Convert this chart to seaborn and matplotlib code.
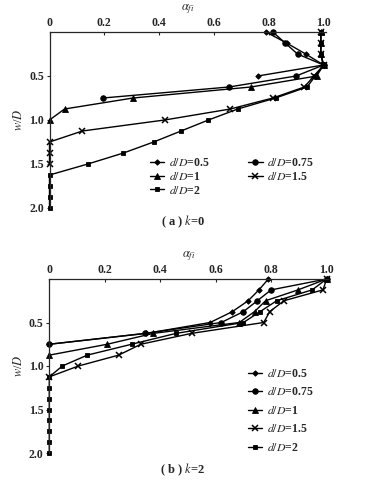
import seaborn as sns
import matplotlib.pyplot as plt
import pandas as pd

# depth steps (w/D) and alpha_fi values
# (a) k=0
w_a05 = [0, 0.125, 0.25, 0.375, 0.5]
a_a05 = [0.79, 0.865, 0.935, 1.0, 0.76]
w_a075 = [0, 0.125, 0.25, 0.375, 0.5, 0.625, 0.75]
a_a075 = [0.815, 0.86, 0.905, 1.0, 0.90, 0.655, 0.195]
w_a1 = [0, 0.125, 0.25, 0.375, 0.5, 0.625, 0.75, 0.875, 1.0]
a_a1 = [0.99, 0.99, 0.99, 1.0, 0.975, 0.735, 0.305, 0.055, 0.0]
w_a15 = [0, 0.125, 0.25, 0.375, 0.5, 0.625, 0.75, 0.875, 1.0, 1.125, 1.25, 1.375, 1.5]
a_a15 = [0.99, 0.99, 0.99, 1.0, 0.965, 0.93, 0.815, 0.66, 0.42, 0.12, 0.0, 0.0, 0.0]
w_a2 = [0, 0.125, 0.25, 0.375, 0.5, 0.625, 0.75, 0.875, 1.0, 1.125, 1.25,
        1.375, 1.5, 1.625, 1.75, 1.875, 2.0]
a_a2 = [0.99, 0.99, 0.99, 1.0, 0.97, 0.94, 0.825, 0.687, 0.58, 0.48, 0.38,
        0.27, 0.14, 0.0, 0.0, 0.0, 0.0]

# (b) k=2
w_b05 = [0, 0.125, 0.25, 0.375, 0.5, 0.625, 0.75]
a_b05 = [0.79, 0.756, 0.717, 0.66, 0.58, 0.35, 0.0]
w_b075 = [0, 0.125, 0.25, 0.375, 0.5, 0.625, 0.75]
a_b075 = [1.0, 0.80, 0.75, 0.70, 0.62, 0.345, 0.0]
w_b1 = [0, 0.125, 0.25, 0.375, 0.5, 0.625, 0.75, 0.875]
a_b1 = [1.0, 0.897, 0.78, 0.74, 0.685, 0.375, 0.209, 0.0]
w_b15 = [0, 0.125, 0.25, 0.375, 0.5, 0.625, 0.75, 0.875, 1.0, 1.125]
a_b15 = [1.0, 0.987, 0.846, 0.795, 0.773, 0.513, 0.33, 0.25, 0.105, 0.0]
w_b2 = [0, 0.125, 0.25, 0.375, 0.5, 0.625, 0.75, 0.875, 1.0, 1.125, 1.25,
        1.375, 1.5, 1.625, 1.75, 1.875, 2.0]
a_b2 = [1.0, 0.948, 0.82, 0.76, 0.70, 0.457, 0.297, 0.137, 0.047, 0.0, 0.0,
        0.0, 0.0, 0.0, 0.0, 0.0, 0.0]

labels = [r'$d$/$D$=0.5', r'$d$/$D$=0.75', r'$d$/$D$=1', r'$d$/$D$=1.5', r'$d$/$D$=2']
markers = ['D', 'o', '^', 'x', 's']
msizes = [2.8, 4.0, 4.0, 3.8, 3.5]

panel_a = [(a_a05, w_a05), (a_a075, w_a075), (a_a1, w_a1), (a_a15, w_a15), (a_a2, w_a2)]
panel_b = [(a_b05, w_b05), (a_b075, w_b075), (a_b1, w_b1), (a_b15, w_b15), (a_b2, w_b2)]

sns.set_style('ticks')
plt.rcParams['font.family'] = ['Liberation Serif', 'DejaVu Serif']
plt.rcParams['mathtext.fontset'] = 'stix'

fig = plt.figure(figsize=(3.65, 4.82), dpi=100)
ax1 = fig.add_axes([49.5 / 365, 1 - 208 / 482, 276.5 / 365, 176 / 482])
ax2 = fig.add_axes([49.3 / 365, 1 - 453 / 482, 278.7 / 365, 174 / 482])


def draw(ax, series, xmax):
    for (a, w), lab, m, ms in zip(series, labels, markers, msizes):
        df = pd.DataFrame({'alpha': a, 'w': w})
        sns.lineplot(data=df, x='alpha', y='w', orient='y', ax=ax, color='black',
                     marker=m, markersize=ms, markeredgecolor='black',
                     markeredgewidth=1.1 if m == 'x' else 0.6, linewidth=1.0,
                     label=lab, clip_on=False, legend=False)
    ax.set_xlim(0, xmax)
    ax.set_ylim(2.0, 0)
    ax.xaxis.tick_top()
    ax.xaxis.set_label_position('top')
    ax.set_xticks([0, 0.2, 0.4, 0.6, 0.8, 1.0])
    ax.set_xticklabels(['0', '0.2', '0.4', '0.6', '0.8', '1.0'])
    ax.set_yticks([0.5, 1.0, 1.5, 2.0])
    ax.set_yticklabels(['0.5', '1.0', '1.5', '2.0'])
    ax.tick_params(axis='x', direction='in', length=2, pad=2, labelsize=8.5)
    ax.tick_params(axis='y', direction='out', length=2, pad=2, labelsize=8.5)
    for t in ax.get_xticklabels() + ax.get_yticklabels():
        t.set_fontweight('bold')
    for s in ['right', 'bottom']:
        ax.spines[s].set_visible(False)
    for s in ['left', 'top']:
        ax.spines[s].set_linewidth(0.9)
    ax.set_xlabel(r'$\alpha_{fi}$', fontsize=9, labelpad=5)
    ax.set_ylabel(r'$w$/$D$', fontsize=9, labelpad=3)


draw(ax1, panel_a, 1.009)
draw(ax2, panel_b, 1.005)

h1 = ax1.get_lines()
ax1.legend([h1[0], h1[2], h1[4], h1[1], h1[3]],
           [labels[0], labels[2], labels[4], labels[1], labels[3]],
           ncol=2, frameon=False, loc='upper left',
           bbox_to_anchor=(150 / 365, 1 - 157 / 482), bbox_transform=fig.transFigure,
           handlelength=1.2, handletextpad=0.4, columnspacing=3.3,
           labelspacing=0.15, borderaxespad=0, borderpad=0,
           prop={'size': 8.5, 'weight': 'bold'})

h2 = ax2.get_lines()
ax2.legend(h2[:5], labels, frameon=False, loc='upper left',
           bbox_to_anchor=(248 / 365, 1 - 368 / 482), bbox_transform=fig.transFigure,
           handlelength=1.2, handletextpad=0.4, labelspacing=0.55,
           borderaxespad=0, borderpad=0, prop={'size': 8.5, 'weight': 'bold'})

fig.text(183 / 365, 1 - 222 / 482, r'( a ) $k$=0', ha='center', va='center', fontsize=9, fontweight='bold')
fig.text(183 / 365, 1 - 470 / 482, r'( b ) $k$=2', ha='center', va='center', fontsize=9, fontweight='bold')

fig.savefig('out.png', dpi=100)
